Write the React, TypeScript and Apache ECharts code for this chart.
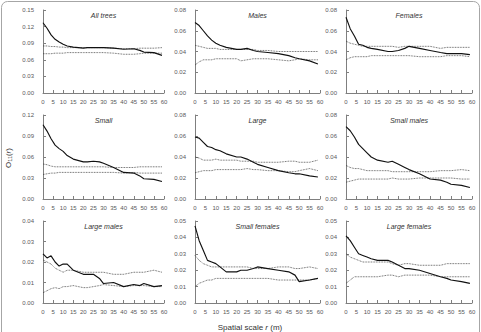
import React, { useEffect, useRef } from "react";
import * as echarts from "echarts";

// Spatial scale r (m) at which values were read
const R = [0, 2, 4, 6, 8, 10, 12, 15, 20, 22, 25, 28, 30, 35, 40, 45, 48, 50, 55, 59];

const allTreesObs = [0.127, 0.117, 0.105, 0.097, 0.092, 0.088, 0.085, 0.083, 0.081, 0.082, 0.082, 0.082, 0.082, 0.081, 0.079, 0.080, 0.077, 0.074, 0.073, 0.068];
const allTreesHi = [0.085, 0.085, 0.084, 0.084, 0.083, 0.083, 0.082, 0.082, 0.082, 0.082, 0.082, 0.082, 0.082, 0.081, 0.080, 0.080, 0.081, 0.081, 0.081, 0.082];
const allTreesLo = [0.071, 0.071, 0.071, 0.072, 0.072, 0.072, 0.073, 0.073, 0.073, 0.073, 0.073, 0.073, 0.073, 0.072, 0.070, 0.070, 0.071, 0.072, 0.072, 0.072];

const malesObs = [0.068, 0.065, 0.060, 0.055, 0.051, 0.048, 0.046, 0.044, 0.042, 0.042, 0.043, 0.041, 0.040, 0.039, 0.038, 0.036, 0.034, 0.033, 0.031, 0.028];
const malesHi = [0.046, 0.045, 0.044, 0.043, 0.043, 0.043, 0.042, 0.042, 0.042, 0.042, 0.042, 0.042, 0.041, 0.041, 0.040, 0.040, 0.040, 0.040, 0.040, 0.040];
const malesLo = [0.027, 0.030, 0.032, 0.032, 0.032, 0.033, 0.033, 0.033, 0.033, 0.031, 0.032, 0.033, 0.033, 0.033, 0.032, 0.031, 0.032, 0.033, 0.032, 0.032];

const femalesObs = [0.073, 0.062, 0.055, 0.047, 0.046, 0.044, 0.043, 0.042, 0.040, 0.040, 0.041, 0.043, 0.045, 0.043, 0.041, 0.039, 0.038, 0.038, 0.038, 0.037];
const femalesHi = [0.050, 0.048, 0.047, 0.046, 0.045, 0.045, 0.045, 0.045, 0.045, 0.045, 0.044, 0.045, 0.045, 0.045, 0.045, 0.043, 0.044, 0.044, 0.044, 0.044];
const femalesLo = [0.032, 0.034, 0.035, 0.035, 0.035, 0.035, 0.036, 0.036, 0.036, 0.036, 0.036, 0.036, 0.036, 0.035, 0.035, 0.035, 0.036, 0.036, 0.036, 0.035];

const smallObs = [0.106, 0.097, 0.086, 0.077, 0.072, 0.068, 0.062, 0.057, 0.053, 0.053, 0.054, 0.053, 0.051, 0.045, 0.038, 0.037, 0.033, 0.029, 0.028, 0.025];
const smallHi = [0.050, 0.049, 0.047, 0.046, 0.046, 0.046, 0.046, 0.046, 0.046, 0.046, 0.046, 0.046, 0.046, 0.045, 0.045, 0.045, 0.046, 0.046, 0.046, 0.046];
const smallLo = [0.035, 0.036, 0.037, 0.037, 0.038, 0.038, 0.038, 0.038, 0.038, 0.038, 0.038, 0.038, 0.038, 0.038, 0.037, 0.038, 0.037, 0.037, 0.037, 0.037];

const largeObs = [0.059, 0.058, 0.054, 0.050, 0.049, 0.047, 0.046, 0.043, 0.040, 0.040, 0.038, 0.035, 0.033, 0.030, 0.027, 0.025, 0.024, 0.024, 0.022, 0.021];
const largeHi = [0.040, 0.039, 0.037, 0.037, 0.037, 0.038, 0.037, 0.037, 0.037, 0.036, 0.036, 0.036, 0.035, 0.035, 0.035, 0.036, 0.036, 0.035, 0.035, 0.037];
const largeLo = [0.025, 0.026, 0.027, 0.027, 0.027, 0.028, 0.028, 0.028, 0.028, 0.028, 0.029, 0.028, 0.028, 0.027, 0.027, 0.026, 0.026, 0.027, 0.029, 0.027];

const smallMalesObs = [0.069, 0.065, 0.059, 0.052, 0.048, 0.044, 0.040, 0.037, 0.035, 0.036, 0.033, 0.030, 0.028, 0.024, 0.019, 0.018, 0.016, 0.014, 0.013, 0.011];
const smallMalesHi = [0.032, 0.030, 0.029, 0.029, 0.028, 0.027, 0.027, 0.027, 0.027, 0.026, 0.026, 0.026, 0.026, 0.026, 0.026, 0.027, 0.027, 0.027, 0.028, 0.027];
const smallMalesLo = [0.016, 0.017, 0.018, 0.019, 0.019, 0.019, 0.019, 0.019, 0.019, 0.020, 0.019, 0.019, 0.019, 0.020, 0.020, 0.020, 0.020, 0.020, 0.019, 0.019];

const largeMalesObs = [0.024, 0.022, 0.023, 0.020, 0.018, 0.019, 0.019, 0.016, 0.014, 0.014, 0.014, 0.012, 0.0095, 0.010, 0.008, 0.009, 0.0085, 0.0095, 0.008, 0.0085];
const largeMalesHi = [0.021, 0.020, 0.019, 0.017, 0.016, 0.015, 0.016, 0.016, 0.015, 0.015, 0.015, 0.015, 0.015, 0.014, 0.014, 0.015, 0.015, 0.015, 0.016, 0.015];
const largeMalesLo = [0.005, 0.006, 0.007, 0.0075, 0.007, 0.008, 0.008, 0.0085, 0.0075, 0.0075, 0.008, 0.0085, 0.009, 0.0085, 0.008, 0.0085, 0.0085, 0.0085, 0.008, 0.008];

const smallFemalesObs = [0.047, 0.038, 0.032, 0.026, 0.025, 0.024, 0.022, 0.019, 0.019, 0.020, 0.020, 0.021, 0.022, 0.021, 0.020, 0.019, 0.017, 0.013, 0.014, 0.015];
const smallFemalesHi = [0.029, 0.026, 0.024, 0.023, 0.022, 0.022, 0.022, 0.022, 0.022, 0.022, 0.022, 0.021, 0.021, 0.021, 0.022, 0.022, 0.021, 0.021, 0.022, 0.021];
const smallFemalesLo = [0.010, 0.012, 0.013, 0.014, 0.014, 0.015, 0.015, 0.015, 0.015, 0.015, 0.015, 0.015, 0.015, 0.015, 0.014, 0.014, 0.014, 0.014, 0.014, 0.015];

const largeFemalesObs = [0.041, 0.038, 0.034, 0.030, 0.029, 0.028, 0.027, 0.026, 0.026, 0.025, 0.023, 0.021, 0.021, 0.020, 0.018, 0.016, 0.015, 0.014, 0.013, 0.012];
const largeFemalesHi = [0.030, 0.028, 0.027, 0.026, 0.025, 0.025, 0.025, 0.025, 0.025, 0.024, 0.023, 0.024, 0.024, 0.023, 0.023, 0.023, 0.024, 0.024, 0.024, 0.024];
const largeFemalesLo = [0.012, 0.014, 0.016, 0.016, 0.016, 0.016, 0.016, 0.016, 0.017, 0.017, 0.016, 0.017, 0.017, 0.017, 0.017, 0.016, 0.016, 0.016, 0.016, 0.016];

const panelTitles = ["All trees", "Males", "Females", "Small", "Large", "Small males", "Large males", "Small females", "Large females"];
const yMaxes = [0.15, 0.08, 0.08, 0.12, 0.08, 0.08, 0.04, 0.05, 0.05];
const yIntervals = [0.03, 0.02, 0.02, 0.03, 0.02, 0.02, 0.01, 0.01, 0.01];
const xMin = 0;
const xMax = 60;
const xInterval = 5;

const observed = [allTreesObs, malesObs, femalesObs, smallObs, largeObs, smallMalesObs, largeMalesObs, smallFemalesObs, largeFemalesObs];
const upper = [allTreesHi, malesHi, femalesHi, smallHi, largeHi, smallMalesHi, largeMalesHi, smallFemalesHi, largeFemalesHi];
const lower = [allTreesLo, malesLo, femalesLo, smallLo, largeLo, smallMalesLo, largeMalesLo, smallFemalesLo, largeFemalesLo];

const colLefts = [43, 195, 346];
const colWidths = [121, 125, 126];
const rowTops = [10, 115, 221];
const rowHeights = [83, 84, 82];

const FONT = "'Liberation Sans', Arial, sans-serif";

export default function App() {
  const ref = useRef<HTMLDivElement>(null);
  useEffect(() => {
    if (!ref.current) return;
    const chart = echarts.init(ref.current, undefined, { renderer: "svg" });
    const grids: any[] = [];
    const xAxes: any[] = [];
    const yAxes: any[] = [];
    const series: any[] = [];
    const graphics: any[] = [];
    const axisCol = "#7f7f7f";
    const labCol = "#595959";
    for (let i = 0; i < 9; i++) {
      const c = i % 3;
      const r = Math.floor(i / 3);
      grids.push({ left: colLefts[c], top: rowTops[r], width: colWidths[c], height: rowHeights[r] });
      xAxes.push({
        type: "value", gridIndex: i, min: xMin, max: xMax, interval: xInterval,
        axisLine: { show: true, lineStyle: { color: axisCol, width: 1 } },
        axisTick: { show: true, inside: true, length: 3, lineStyle: { color: axisCol } },
        axisLabel: { fontSize: 6, color: labCol, fontFamily: FONT, margin: 6, showMinLabel: true, showMaxLabel: true },
        splitLine: { show: false },
      });
      yAxes.push({
        type: "value", gridIndex: i, min: 0, max: yMaxes[i], interval: yIntervals[i],
        axisLine: { show: true, lineStyle: { color: axisCol, width: 1 } },
        axisTick: { show: true, inside: true, length: 3, lineStyle: { color: axisCol } },
        axisLabel: { fontSize: 6, color: labCol, fontFamily: FONT, margin: 9, formatter: (v: number) => v.toFixed(2) },
        splitLine: { show: false },
      });
      const mk = (arr: number[]) => R.map((x, k) => [x, arr[k]]);
      const dotted = { color: "#333", width: 0.8, type: "dotted" };
      series.push({ type: "line", xAxisIndex: i, yAxisIndex: i, data: mk(upper[i]), symbol: "none", lineStyle: dotted, silent: true });
      series.push({ type: "line", xAxisIndex: i, yAxisIndex: i, data: mk(lower[i]), symbol: "none", lineStyle: dotted, silent: true });
      series.push({ type: "line", xAxisIndex: i, yAxisIndex: i, data: mk(observed[i]), symbol: "none", lineStyle: { color: "#111", width: 1.15 }, silent: true });
      graphics.push({
        type: "text", x: colLefts[c] + colWidths[c] / 2, y: rowTops[r] + 2,
        style: { text: panelTitles[i], font: `italic 7px ${FONT}`, fill: "#333", textAlign: "center", textVerticalAlign: "top" },
      });
    }
    graphics.push({
      type: "rect", shape: { x: 1.5, y: 1.5, width: 478, height: 345, r: 6 },
      style: { fill: "none", stroke: "#a6a6a6", lineWidth: 1 },
    });
    graphics.push({
      type: "text", x: 8, y: 158, rotation: Math.PI / 2,
      style: {
        text: "O{s|11}({i|r})", fill: "#333", font: `8px ${FONT}`, textAlign: "center", textVerticalAlign: "middle",
        rich: { s: { fontSize: 5.5, fontFamily: FONT, fill: "#333", verticalAlign: "bottom", padding: [4, 0, 0, 0] }, i: { fontSize: 8, fontStyle: "italic", fontFamily: FONT, fill: "#333" } },
      },
    });
    graphics.push({
      type: "text", x: 250, y: 327,
      style: {
        text: "Spatial scale {i|r} (m)", fill: "#333", font: `8px ${FONT}`, textAlign: "center", textVerticalAlign: "middle",
        rich: { i: { fontSize: 8, fontStyle: "italic", fontFamily: FONT, fill: "#333" } },
      },
    });
    chart.setOption({
      animation: false,
      backgroundColor: "#fff",
      grid: grids,
      xAxis: xAxes,
      yAxis: yAxes,
      series,
      graphic: graphics,
    });
    return () => chart.dispose();
  }, []);
  return <div ref={ref} style={{ position: "absolute", left: 0, top: 0, width: 481, height: 332 }} />;
}
